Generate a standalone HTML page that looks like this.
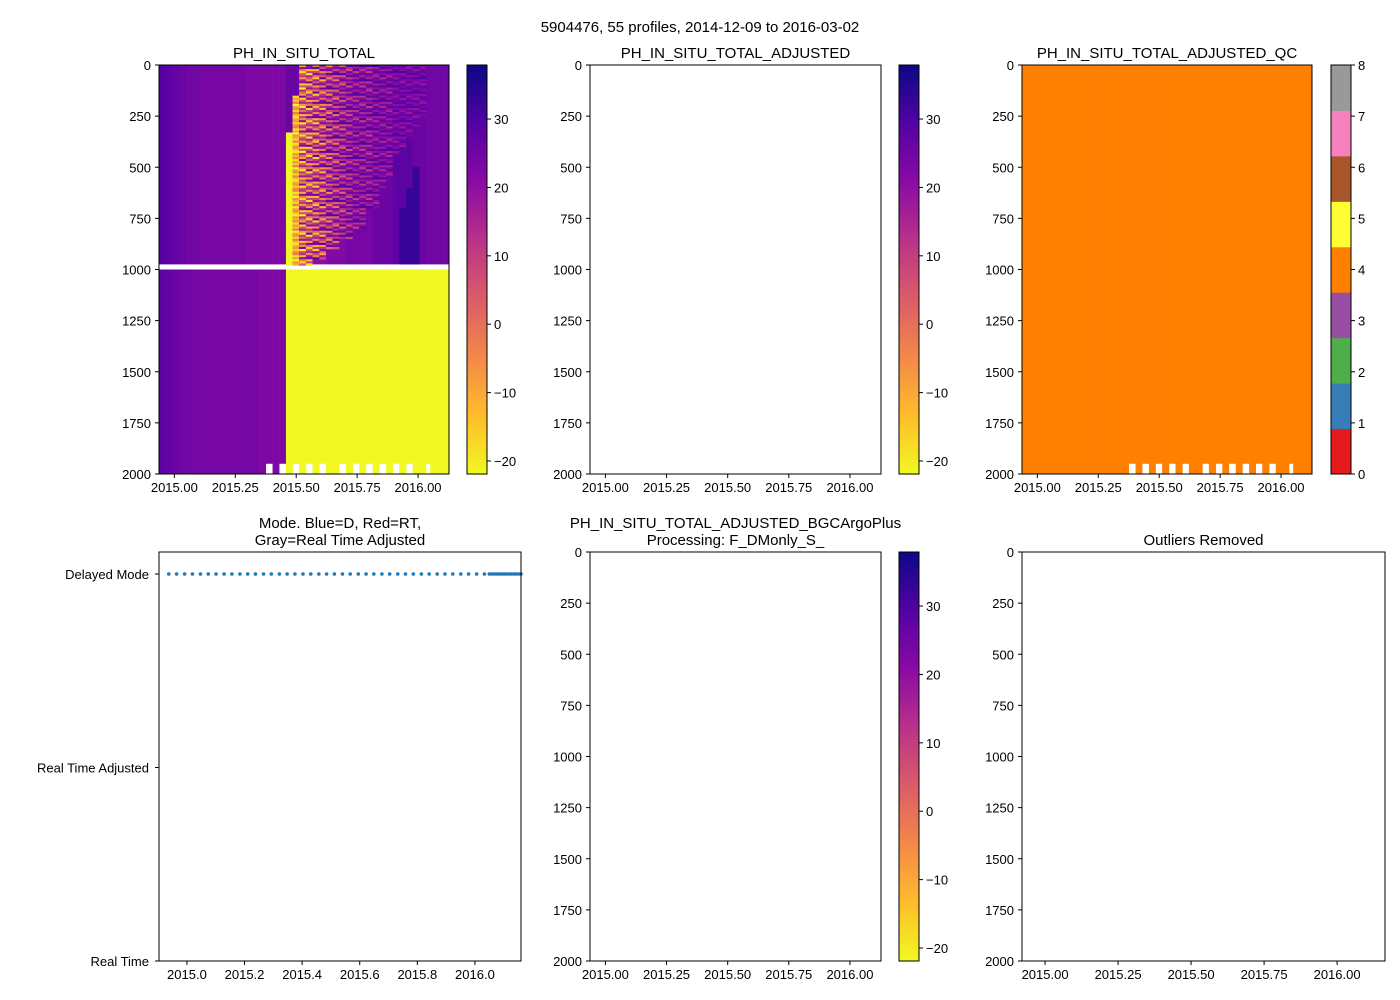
<!DOCTYPE html>
<html><head><meta charset="utf-8"><style>
body{margin:0;background:#fff;}
svg{display:block;font-family:"Liberation Sans","DejaVu Sans",sans-serif;}
</style></head><body>
<svg id="fig" width="1400" height="1000" viewBox="0 0 1400 1000" xmlns="http://www.w3.org/2000/svg">
<rect width="1400" height="1000" fill="#fff"/>
<text x="700" y="32" text-anchor="middle" font-size="15">5904476, 55 profiles, 2014-12-09 to 2016-03-02</text>
</svg>
<script>
// ---- data ----
const profileDates = [2014.937,2014.964,2014.992,2015.019,2015.047,2015.074,2015.101,2015.129,2015.156,2015.184,
2015.211,2015.238,2015.266,2015.293,2015.321,2015.348,2015.375,2015.403,2015.430,2015.458,
2015.485,2015.512,2015.540,2015.567,2015.595,2015.622,2015.649,2015.677,2015.704,2015.732,
2015.759,2015.786,2015.814,2015.841,2015.869,2015.896,2015.923,2015.951,2015.978,2016.006,
2016.033,2016.050,2016.058,2016.067,2016.075,2016.084,2016.092,2016.101,2016.109,2016.118,
2016.126,2016.135,2016.143,2016.152,2016.160];
const upperValues = [29,28,27,26,25,25,24,24,24,24,24,24,24,23,23,23,23,23,23,26,
26,24,22,20,20,22,22,22,24,24,24,24,26,26,26,28,28,28,26,26,
25,25,25,25,25,25,25,25,25,25,25,25,25,25,25];
const lowerValues = [28,27,26,25,25,24,24,24,24,24,24,24,24,24,24,23,23,23,23,-22,
-22,-22,-22,-22,-22,-22,-22,-22,-22,-22,-22,-22,-22,-22,-22,-22,-22,-22,-22,-22,
-22,-22,-22,-22,-22,-22,-22,-22,-22,-22,-22,-22,-22,-22,-22];
const bottomDepths = [2000,2000,2000,2000,2000,2000,2000,2000,2000,2000,2000,2000,2000,2000,2000,2000,1950,2000,1950,2000,
1950,2000,1950,2000,1950,2000,2000,1950,2000,1950,2000,1950,2000,1950,2000,1950,2000,1950,2000,2000,
1950,2000,2000,2000,2000,2000,2000,2000,2000,2000,2000,2000,2000,2000,2000];
const noiseTop = [0,0,0,0,0,0,0,0,0,0,0,0,0,0,0,0,0,0,0,330,
150,0,0,0,0,0,0,0,0,0,0,0,0,0,0,0,0,0,0,0,
0,0,0,0,0,0,0,0,0,0,0,0,0,0,0];
const noiseBottom = [0,0,0,0,0,0,0,0,0,0,0,0,0,0,0,0,0,0,0,975,
975,975,975,950,950,900,900,850,850,800,800,700,700,600,550,450,400,350,300,250,
0,0,0,0,0,0,0,0,0,0,0,0,0,0,0];
const noiseMean = [0,0,0,0,0,0,0,0,0,0,0,0,0,0,0,0,0,0,0,-22,
-12,0,3,5,8,12,14,16,18,20,20,20,22,22,22,24,24,24,24,24,
0,0,0,0,0,0,0,0,0,0,0,0,0,0,0];
const noiseAmp = [0,0,0,0,0,0,0,0,0,0,0,0,0,0,0,0,0,0,0,0,
10,22,22,22,20,18,16,14,12,10,10,10,8,8,8,6,6,6,6,6,
0,0,0,0,0,0,0,0,0,0,0,0,0,0,0];
const noisePattern = [0.9,-0.7,0.3,-1,0.6,0.1,-0.4,1,-0.8,0.2,0.7,-0.3,-0.9,0.5,0,0.8,-0.6,0.4,-0.2,1,-1,0.3,0.6,-0.5,0.9,-0.1,-0.8,0.2,0.5,-0.4,0.7];
const deepBlueTop = [0,0,0,0,0,0,0,0,0,0,0,0,0,0,0,0,0,0,0,0,0,0,0,0,0,0,0,0,0,0,0,0,0,0,0,0,700,600,500,0,0,0,0,0,0,0,0,0,0,0,0,0,0,0,0];
const modeValues = Array(55).fill('D');
const modeLabels = ['Real Time','Real Time Adjusted','Delayed Mode'];
const depthTicks = [0,250,500,750,1000,1250,1500,1750,2000];
const dateTicksA = [2015.00,2015.25,2015.50,2015.75,2016.00];
const dateTicksB = [2015.0,2015.2,2015.4,2015.6,2015.8,2016.0];
const cbarTicks = [-20,-10,0,10,20,30];
const qcColors = ['#e41a1c','#377eb8','#4daf4a','#984ea3','#ff7f00','#ffff33','#a65628','#f781bf','#999999'];
const qcTicks = [0,1,2,3,4,5,6,7,8];
const qcValue = 4;

// ---- helpers ----
const NS='http://www.w3.org/2000/svg';
const fig=document.getElementById('fig');
function mk(tag,attrs,parent){const e=document.createElementNS(NS,tag);for(const k in attrs)e.setAttribute(k,attrs[k]);(parent||fig).appendChild(e);return e;}
const VMIN=-21.9,VMAX=37.9;
const plasma=[[13,8,135],[84,2,163],[139,10,165],[185,50,137],[219,92,104],[244,136,73],[254,188,43],[240,249,33]];
function cmap(v){let t=(v-VMIN)/(VMAX-VMIN);t=Math.max(0,Math.min(1,t));t=1-t;const s=t*(plasma.length-1);const i=Math.min(plasma.length-2,Math.floor(s));const f=s-i;const a=plasma[i],b=plasma[i+1];return 'rgb('+a.map((c,j)=>Math.round(c+(b[j]-c)*f)).join(',')+')';}
function fmtNeg(v){return v<0?'\u2212'+Math.abs(v):String(v);}

function axes(p,title,dateTicks,dec,name){
  const g=mk('g',{});
  
  
  p.g=g;
  p.sx=d=>p.x0+(d-p.d0)/(p.d1-p.d0)*(p.x1-p.x0);
  p.sy=z=>p.y0+z/2000*(p.y1-p.y0);
  const lines=title.split('\n');
  lines.forEach((l,i)=>{const t=mk('text',{x:(p.x0+p.x1)/2,y:p.y0-7-(lines.length-1-i)*17,'text-anchor':'middle','font-size':15},g);t.textContent=l;
    
    });
  return g;
}
function frame(p,dateTicks,dec,depth){
  const g=p.g;
  const f=mk('rect',{x:p.x0,y:p.y0,width:p.x1-p.x0,height:p.y1-p.y0,fill:'none',stroke:'#000','stroke-width':1},g);
  
  
  dateTicks.forEach(d=>{const x=p.sx(d);mk('line',{x1:x,x2:x,y1:p.y1,y2:p.y1+4,stroke:'#000'},g);
    const t=mk('text',{x:x,y:p.y1+18,'text-anchor':'middle','font-size':13},g);t.textContent=d.toFixed(dec);
    
    });
  if(depth){depthTicks.forEach(z=>{const y=p.sy(z);mk('line',{x1:p.x0-4,x2:p.x0,y1:y,y2:y,stroke:'#000'},g);
    const t=mk('text',{x:p.x0-8,y:y+5,'text-anchor':'end','font-size':13},g);t.textContent=z;
    
    });}
}
function colorbar(x0,y0,y1,name){
  const g=mk('g',{});
  
  
  const n=120,h=(y1-y0)/n;
  for(let i=0;i<n;i++){const v=VMAX-(i+0.5)/n*(VMAX-VMIN);mk('rect',{x:x0,y:y0+i*h,width:20,height:h+0.6,fill:cmap(v)},g);}
  mk('rect',{x:x0,y:y0,width:20,height:y1-y0,fill:'none',stroke:'#000'},g);
  cbarTicks.forEach(v=>{const y=y0+(VMAX-v)/(VMAX-VMIN)*(y1-y0);mk('line',{x1:x0+20,x2:x0+24,y1:y,y2:y,stroke:'#000'},g);
    const t=mk('text',{x:x0+27,y:y+5,'font-size':13},g);t.textContent=fmtNeg(v);
    
    });
}

// ---- panel 1: heatmap ----
const P1={x0:159,x1:449,y0:65,y1:474,d0:2014.937,d1:2016.127};
axes(P1,'PH_IN_SITU_TOTAL',dateTicksA,2,'panel-ph-in-situ-total');
const clip=mk('clipPath',{id:'c1'});mk('rect',{x:P1.x0,y:P1.y0,width:P1.x1-P1.x0,height:P1.y1-P1.y0},clip);
const hm=mk('g',{'clip-path':'url(#c1)'},P1.g);


for(let i=0;i<profileDates.length;i++){
  const xa=P1.sx(profileDates[i]);
  const xb=i+1<profileDates.length?P1.sx(profileDates[i+1]):P1.sx(profileDates[i]+0.03);
  const w=xb-xa+0.3;
  let r=mk('rect',{x:xa,y:P1.sy(0),width:w,height:P1.sy(975)-P1.sy(0),fill:cmap(upperValues[i])},hm);
  
  
  if(deepBlueTop[i]>0){mk('rect',{x:xa,y:P1.sy(deepBlueTop[i]),width:w,height:P1.sy(975)-P1.sy(deepBlueTop[i]),fill:cmap(33)},hm);}
  if(noiseBottom[i]>noiseTop[i]){
    for(let z=noiseTop[i],k=0;z<noiseBottom[i];z+=10,k++){
      const v=noiseMean[i]+noiseAmp[i]*noisePattern[(k+i*7)%noisePattern.length];
      mk('rect',{x:xa,y:P1.sy(z),width:w,height:P1.sy(10)-P1.sy(0)+0.3,fill:cmap(v)},hm);
    }
  }
  r=mk('rect',{x:xa,y:P1.sy(1000),width:w,height:P1.sy(bottomDepths[i])-P1.sy(1000),fill:cmap(lowerValues[i])},hm);
  
  
}
frame(P1,dateTicksA,2,true);
colorbar(467,65,474,'colorbar-ph');

// ---- panel 2: adjusted (empty) ----
const P2={x0:590,x1:881,y0:65,y1:474,d0:2014.937,d1:2016.127};
axes(P2,'PH_IN_SITU_TOTAL_ADJUSTED',dateTicksA,2,'panel-ph-adjusted');
frame(P2,dateTicksA,2,true);
colorbar(899,65,474,'colorbar-ph-adjusted');

// ---- panel 3: QC ----
const P3={x0:1022,x1:1312,y0:65,y1:474,d0:2014.937,d1:2016.127};
axes(P3,'PH_IN_SITU_TOTAL_ADJUSTED_QC',dateTicksA,2,'panel-qc');
const clip3=mk('clipPath',{id:'c3'});mk('rect',{x:P3.x0,y:P3.y0,width:P3.x1-P3.x0,height:P3.y1-P3.y0},clip3);
const qg=mk('g',{'clip-path':'url(#c3)'},P3.g);
for(let i=0;i<profileDates.length;i++){
  const xa=P3.sx(profileDates[i]);
  const xb=i+1<profileDates.length?P3.sx(profileDates[i+1]):P3.sx(profileDates[i]+0.03);
  const r=mk('rect',{x:xa,y:P3.y0,width:xb-xa+0.3,height:P3.sy(bottomDepths[i])-P3.y0,fill:qcColors[qcValue]},qg);
  
  
}
frame(P3,dateTicksA,2,true);
(function(){const g=mk('g',{});
  
  
  const x0=1331,y0=65,y1=474,h=(y1-y0)/9;
  qcColors.forEach((c,i)=>mk('rect',{x:x0,y:y1-(i+1)*h,width:20,height:h+0.5,fill:c},g));
  mk('rect',{x:x0,y:y0,width:20,height:y1-y0,fill:'none',stroke:'#000'},g);
  qcTicks.forEach(v=>{const y=y1-v/8*(y1-y0);mk('line',{x1:x0+20,x2:x0+24,y1:y,y2:y,stroke:'#000'},g);
    const t=mk('text',{x:x0+27,y:y+5,'font-size':13},g);t.textContent=v;
    
    });
})();

// ---- panel 4: mode ----
const P4={x0:159,x1:521,y0:552,y1:961,d0:2014.903,d1:2016.160};
axes(P4,'Mode. Blue=D, Red=RT,\nGray=Real Time Adjusted',dateTicksB,1,'panel-mode');
const my=v=>P4.y1-v/2*(P4.y1-574);
modeValues.forEach((m,i)=>{const v=m==='D'?2:(m==='A'?1:0);
  const c=mk('circle',{cx:P4.sx(profileDates[i]),cy:my(v),r:1.8,fill:m==='D'?'#1f77b4':(m==='R'?'#d62728':'#7f7f7f')},P4.g);
  
  });
frame(P4,dateTicksB,1,false);
modeLabels.forEach((l,i)=>{const y=my(i);mk('line',{x1:P4.x0-4,x2:P4.x0,y1:y,y2:y,stroke:'#000'},P4.g);
  const t=mk('text',{x:P4.x0-10,y:y+5,'text-anchor':'end','font-size':13},P4.g);t.textContent=l;
  
  });

// ---- panel 5 ----
const P5={x0:590,x1:881,y0:552,y1:961,d0:2014.937,d1:2016.127};
axes(P5,'PH_IN_SITU_TOTAL_ADJUSTED_BGCArgoPlus\nProcessing: F_DMonly_S_',dateTicksA,2,'panel-bgcargoplus');
frame(P5,dateTicksA,2,true);
colorbar(899,552,961,'colorbar-bgcargoplus');

// ---- panel 6 ----
const P6={x0:1022,x1:1385,y0:552,y1:961,d0:2014.921,d1:2016.164};
axes(P6,'Outliers Removed',dateTicksA,2,'panel-outliers');
frame(P6,dateTicksA,2,true);
</script>
</body></html>
